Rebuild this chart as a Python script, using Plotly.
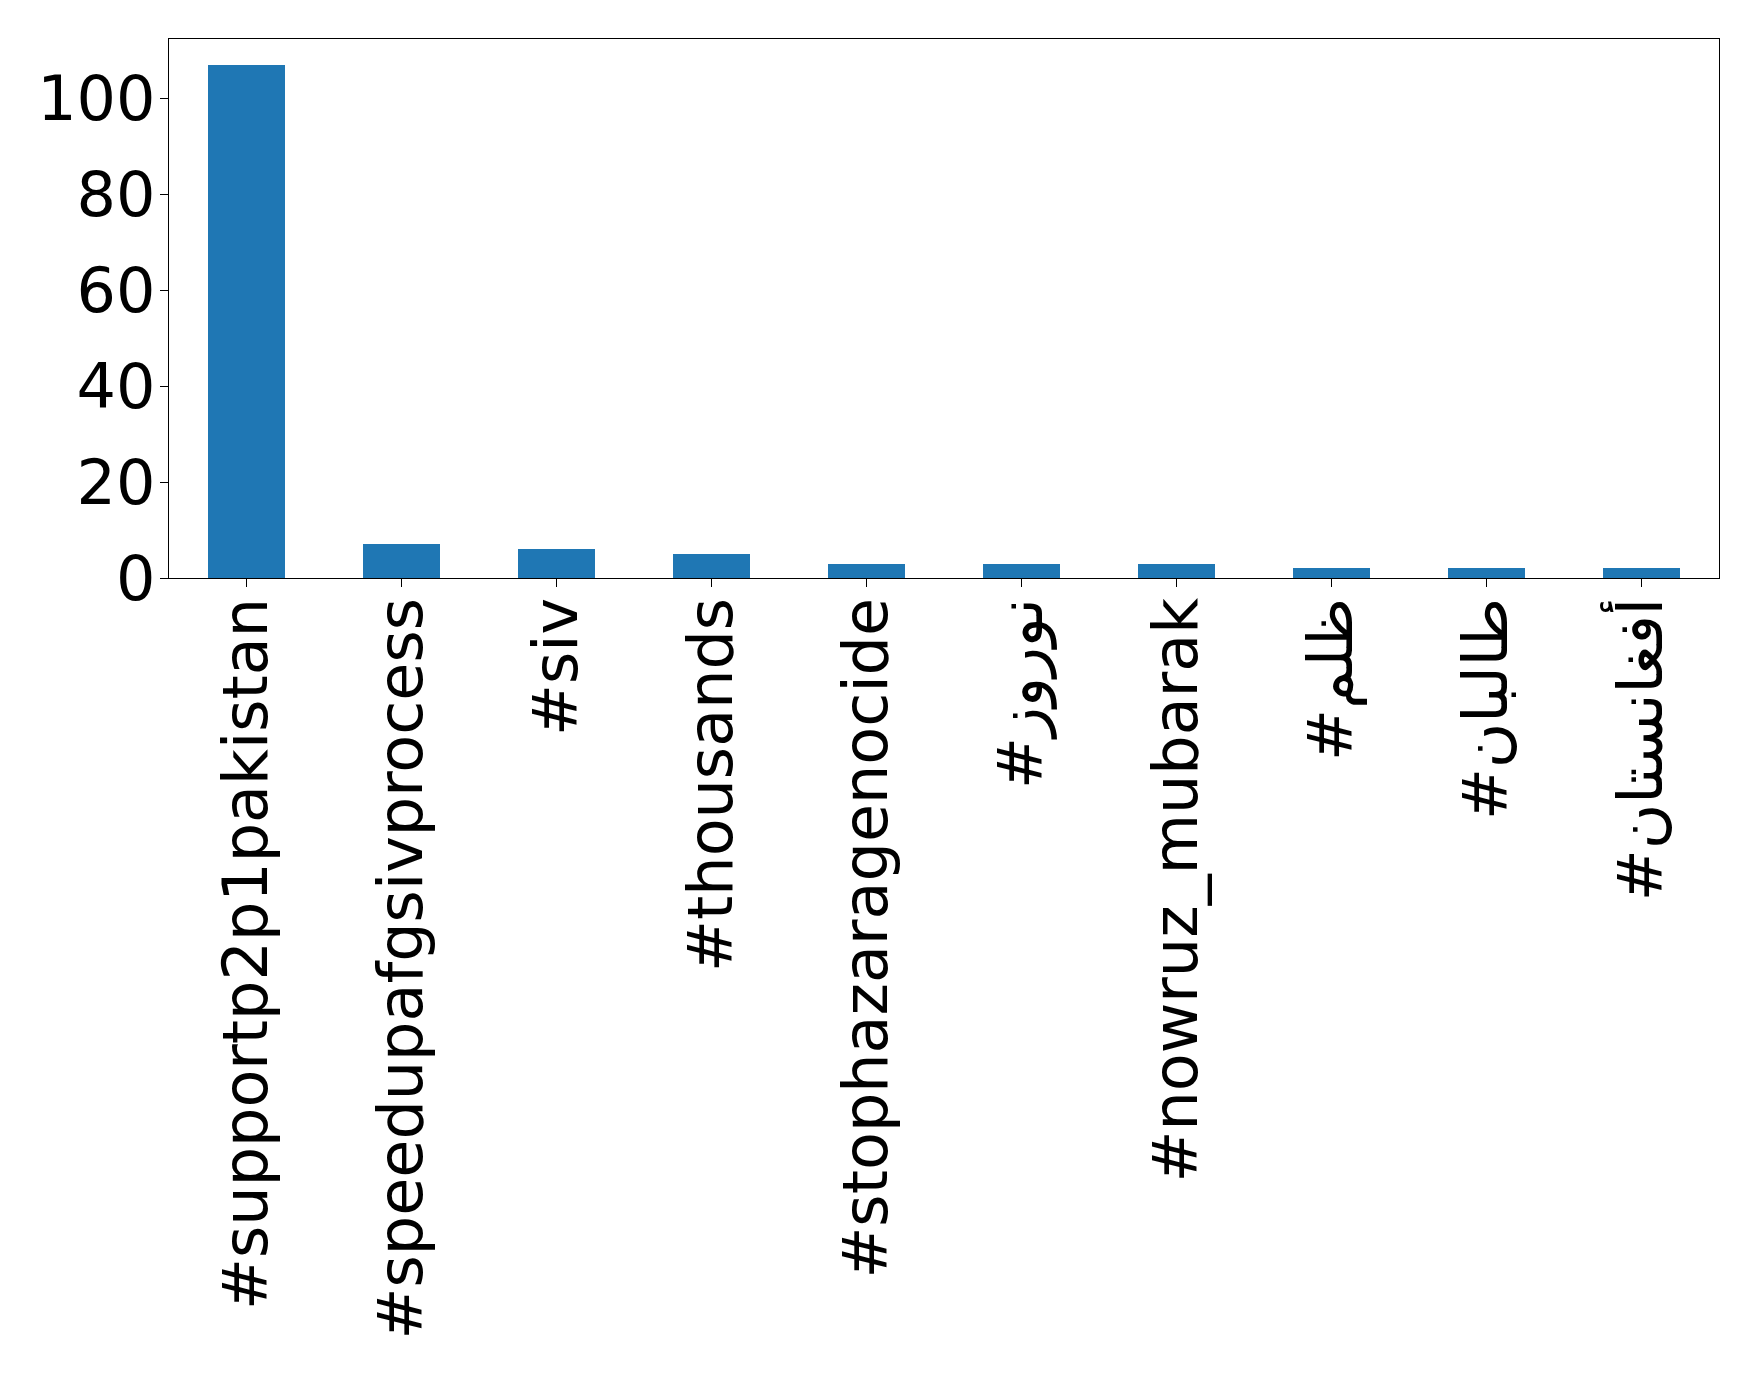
import plotly.graph_objects as go

hashtags = [
    "#supportp2p1pakistan",
    "#speedupafgsivprocess",
    "#siv",
    "#thousands",
    "#stophazaragenocide",
    "#نوروز",
    "#nowruz_mubarak",
    "#ظلم",
    "#طالبان",
    "#أفغانستان",
]
counts = [107, 7, 6, 5, 3, 3, 3, 2, 2, 2]

fig = go.Figure()
fig.add_trace(go.Bar(
    x=list(range(len(hashtags))),
    y=counts,
    width=0.5,
    marker=dict(color="#1f77b4", line=dict(width=0)),
))

font_family = "DejaVu Sans"
fs = 62
fig.update_layout(
    width=1758,
    height=1375,
    margin=dict(l=161, r=47, t=31, b=805),
    paper_bgcolor="white",
    plot_bgcolor="white",
    showlegend=False,
    font=dict(family=font_family, size=fs, color="black"),
    bargap=0,
)
fig.update_xaxes(
    range=[-0.5, 9.5],
    tickmode="array",
    tickvals=list(range(len(hashtags))),
    ticktext=hashtags,
    tickangle=-90,
    ticks="outside",
    ticklen=8,
    tickwidth=1.2,
    tickcolor="black",
    ticklabelstandoff=-14,
    showline=True,
    linecolor="black",
    linewidth=1.2,
    mirror=True,
    showgrid=False,
    zeroline=False,
    tickfont=dict(family=font_family, size=fs, color="black"),
)
fig.update_yaxes(
    range=[0, 112.35],
    tickmode="array",
    tickvals=[0, 20, 40, 60, 80, 100],
    ticks="outside",
    ticklen=8,
    tickwidth=1.2,
    tickcolor="black",
    ticklabelstandoff=-8,
    showline=True,
    linecolor="black",
    linewidth=1.2,
    mirror=True,
    showgrid=False,
    zeroline=False,
    tickfont=dict(family=font_family, size=fs, color="black"),
)

fig.write_html("out.html")
